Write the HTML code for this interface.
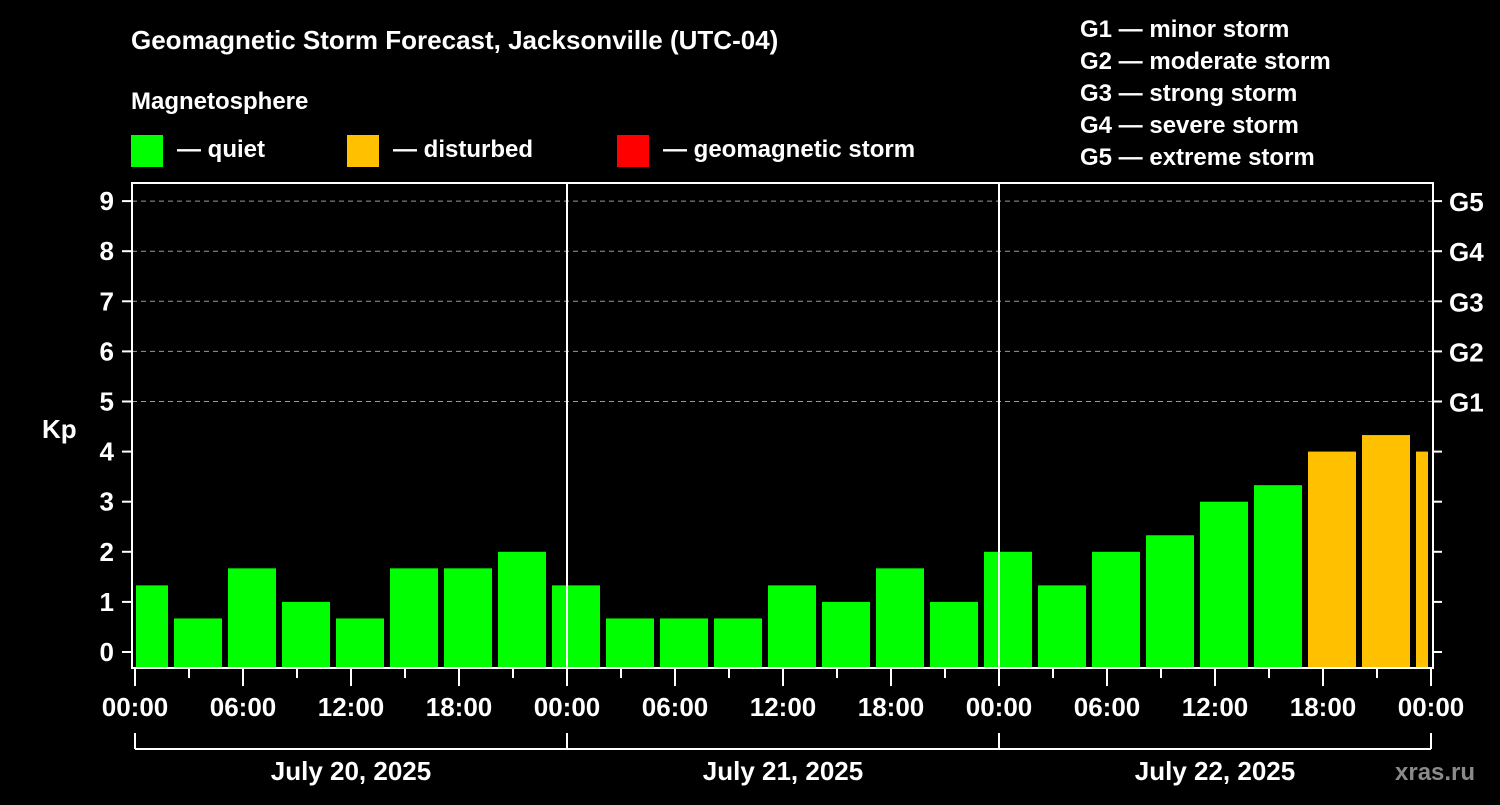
<!DOCTYPE html>
<html><head><meta charset="utf-8"><style>
html,body{margin:0;padding:0;background:#000;}
svg text{font-family:"Liberation Sans",sans-serif;font-weight:bold;fill:#fff;}
</style></head><body>
<svg id="chart" width="1500" height="800" viewBox="0 0 1500 800">
<text x="131" y="49" font-size="26">Geomagnetic Storm Forecast, Jacksonville (UTC-04)</text>
<text x="131" y="109" font-size="24">Magnetosphere</text>
<g><rect x="131" y="135" width="32" height="32" fill="#00ff00"/><text x="177" y="157" font-size="24">— quiet</text></g>
<g><rect x="347" y="135" width="32" height="32" fill="#ffc000"/><text x="393" y="157" font-size="24">— disturbed</text></g>
<g><rect x="617" y="135" width="32" height="32" fill="#ff0000"/><text x="663" y="157" font-size="24">— geomagnetic storm</text></g>
<g font-size="24">
<text x="1080" y="37">G1 — minor storm</text>
<text x="1080" y="69">G2 — moderate storm</text>
<text x="1080" y="101">G3 — strong storm</text>
<text x="1080" y="133">G4 — severe storm</text>
<text x="1080" y="165">G5 — extreme storm</text>
</g>
<text x="42" y="438" font-size="26">Kp</text>
<g id="grid"></g><g id="bars"></g><g id="axes"></g>
<text x="1395" y="780" font-size="24" fill="#888" style="fill:#8a8a8a">xras.ru</text>
</svg>
<script>
const binStartHours=[-1,2,5,8,11,14,17,20,23,26,29,32,35,38,41,44,47,50,53,56,59,62,65,68,71];
const kpValues=[1.33,0.67,1.67,1,0.67,1.67,1.67,2,1.33,0.67,0.67,0.67,1.33,1,1.67,1,2,1.33,2,2.33,3,3.33,4,4.33,4];
const yTicks=[0,1,2,3,4,5,6,7,8,9];
const gLabels=["G1","G2","G3","G4","G5"];
const xTickLabels=["00:00","06:00","12:00","18:00","00:00","06:00","12:00","18:00","00:00","06:00","12:00","18:00","00:00"];
const dayLabels=["July 20, 2025","July 21, 2025","July 22, 2025"];
const NS="http://www.w3.org/2000/svg";
const X0=135,PXH=18,Y0=652,PXK=50.1,L=132,R=1433,T=183,B=668;
const x=h=>X0+h*PXH, y=v=>Y0-v*PXK;
function mk(tag,attrs,parent){const e=document.createElementNS(NS,tag);for(const k in attrs)e.setAttribute(k,attrs[k]);parent.appendChild(e);return e;}
const grid=document.getElementById('grid'),bars=document.getElementById('bars'),axes=document.getElementById('axes');
for(let k=5;k<=9;k++){const l=mk('line',{x1:L,x2:R,y1:y(k),y2:y(k),stroke:'#999','stroke-dasharray':'5,4','stroke-width':1},grid);

}
binStartHours.forEach((h,i)=>{
 let x1=Math.max(x(h)+3,X0+1),x2=Math.min(x(h+3)-3,1428);
 const v=kpValues[i];const c=v>=5?'#ff0000':(v>=4?'#ffc000':'#00ff00');
 const r=mk('rect',{x:x1,y:y(v),width:x2-x1,height:B-y(v),fill:c},bars);
 
 
});
mk('rect',{x:L,y:T,width:R-L,height:B-T,fill:'none',stroke:'#fff','stroke-width':2},axes);
[24,48].forEach(h=>{const l=mk('line',{x1:x(h),x2:x(h),y1:T,y2:B,stroke:'#fff','stroke-width':2},axes);

});
yTicks.forEach(k=>{
 mk('line',{x1:122,x2:L,y1:y(k),y2:y(k),stroke:'#fff','stroke-width':2},axes);
 mk('line',{x1:R,x2:1442,y1:y(k),y2:y(k),stroke:'#fff','stroke-width':2},axes);
 const t=mk('text',{x:114,y:y(k)+9,'font-size':26,'text-anchor':'end'},axes);t.textContent=k;
 
 
});
gLabels.forEach((g,i)=>{const t=mk('text',{x:1449,y:y(5+i)+10,'font-size':26},axes);t.textContent=g;
 
 });
for(let h=0;h<=72;h+=3){const major=h%6===0;mk('line',{x1:x(h),x2:x(h),y1:B,y2:major?686:678,stroke:'#fff','stroke-width':2},axes);}
xTickLabels.forEach((s,i)=>{const t=mk('text',{x:x(i*6),y:716,'font-size':26,'text-anchor':'middle'},axes);t.textContent=s;
 
 });
mk('line',{x1:x(0),x2:x(72),y1:749,y2:749,stroke:'#fff','stroke-width':2},axes);
for(let d=0;d<=3;d++)mk('line',{x1:x(d*24),x2:x(d*24),y1:733,y2:749,stroke:'#fff','stroke-width':2},axes);
dayLabels.forEach((s,i)=>{const t=mk('text',{x:x(i*24+12),y:780,'font-size':26,'text-anchor':'middle'},axes);t.textContent=s;
 
 });
</script>
</body></html>
